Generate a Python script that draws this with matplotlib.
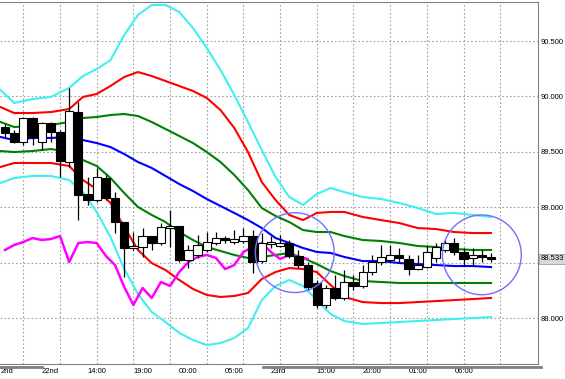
import numpy as np
import matplotlib.pyplot as plt
from matplotlib.patches import Ellipse
from matplotlib.lines import Line2D

plt.rcParams['font.family'] = ['Liberation Sans', 'DejaVu Sans']

# 1) candles (hourly OHLC)
opens = [89.724, 89.670, 89.588, 89.805, 89.588, 89.760, 89.679, 89.408, 89.859, 89.119,
         89.065, 89.264, 89.083, 88.866, 88.632, 88.641, 88.740, 88.677, 88.812, 88.830,
         88.523, 88.569, 88.614, 88.677, 88.722, 88.686, 88.695, 88.740, 88.514, 88.668,
         88.650, 88.677, 88.560, 88.478, 88.316, 88.117, 88.271, 88.181, 88.325, 88.289,
         88.415, 88.505, 88.523, 88.569, 88.533, 88.442, 88.460, 88.542, 88.614, 88.677,
         88.596, 88.542, 88.569, 88.551]
highs = [89.751, 89.697, 89.814, 89.814, 89.769, 89.769, 89.697, 90.076, 89.949, 89.273,
         89.354, 89.291, 89.137, 88.866, 88.776, 88.812, 88.740, 88.857, 88.975, 88.830,
         88.659, 88.749, 88.776, 88.776, 88.740, 88.794, 88.812, 88.794, 88.767, 88.740,
         88.749, 88.704, 88.614, 88.505, 88.343, 88.298, 88.388, 88.433, 88.388, 88.478,
         88.569, 88.659, 88.659, 88.632, 88.569, 88.569, 88.659, 88.677, 88.704, 88.722,
         88.632, 88.632, 88.614, 88.587]
lows = [89.625, 89.579, 89.561, 89.561, 89.516, 89.588, 89.273, 89.363, 88.884, 89.020,
        89.047, 89.065, 88.767, 88.370, 88.614, 88.551, 88.614, 88.659, 88.641, 88.505,
        88.451, 88.542, 88.596, 88.659, 88.677, 88.668, 88.677, 88.406, 88.496, 88.632,
        88.641, 88.542, 88.451, 88.253, 88.090, 88.090, 88.162, 88.162, 88.253, 88.271,
        88.388, 88.478, 88.505, 88.505, 88.388, 88.433, 88.451, 88.505, 88.596, 88.569,
        88.469, 88.469, 88.505, 88.505]
closes = [89.670, 89.588, 89.805, 89.634, 89.760, 89.679, 89.417, 89.868, 89.110, 89.065,
          89.273, 89.083, 88.866, 88.632, 88.650, 88.740, 88.677, 88.821, 88.830, 88.523,
          88.614, 88.659, 88.686, 88.722, 88.704, 88.713, 88.740, 88.505, 88.677, 88.686,
          88.677, 88.560, 88.478, 88.280, 88.117, 88.271, 88.181, 88.325, 88.289, 88.415,
          88.505, 88.551, 88.569, 88.542, 88.442, 88.478, 88.596, 88.641, 88.677, 88.596,
          88.533, 88.569, 88.551, 88.533]

# 2) bollinger bands, read at these candle positions
band_x = [-0.5, 1, 3, 5, 7, 8.5, 10, 11.5, 13, 14.5, 16, 17.5, 19, 20.5, 22, 23.5, 25,
          26.5, 28, 29.5, 31, 32.5, 34, 35.5, 37, 39, 41, 43, 45, 47, 49, 51, 53]
upper3 = [90.058, 89.940, 89.976, 89.995, 90.076, 90.184, 90.247, 90.328, 90.554, 90.735,
          90.825, 90.825, 90.762, 90.617, 90.437, 90.238, 90.013, 89.769, 89.516, 89.273,
          89.092, 89.020, 89.119, 89.173, 89.137, 89.092, 89.074, 89.038, 88.993, 88.939,
          88.948, 88.930, 88.912]
upper2 = [89.904, 89.850, 89.850, 89.859, 89.886, 89.995, 90.022, 90.094, 90.175, 90.220,
          90.184, 90.139, 90.094, 90.049, 89.986, 89.877, 89.715, 89.498, 89.227, 89.065,
          88.930, 88.884, 88.948, 88.957, 88.957, 88.912, 88.884, 88.857, 88.812, 88.803,
          88.776, 88.767, 88.767]
upper1 = [89.769, 89.724, 89.733, 89.742, 89.769, 89.805, 89.814, 89.832, 89.841, 89.823,
          89.769, 89.706, 89.643, 89.579, 89.498, 89.408, 89.291, 89.155, 88.993, 88.921,
          88.866, 88.794, 88.776, 88.776, 88.740, 88.704, 88.695, 88.677, 88.650, 88.641,
          88.623, 88.614, 88.614]
middle = [89.634, 89.606, 89.625, 89.625, 89.634, 89.606, 89.579, 89.543, 89.480, 89.408,
          89.354, 89.282, 89.209, 89.146, 89.074, 89.011, 88.948, 88.884, 88.812, 88.722,
          88.677, 88.632, 88.596, 88.587, 88.551, 88.514, 88.514, 88.496, 88.487, 88.478,
          88.469, 88.469, 88.460]
lower1 = [89.507, 89.498, 89.507, 89.525, 89.498, 89.426, 89.372, 89.264, 89.128, 89.002,
          88.930, 88.866, 88.776, 88.704, 88.641, 88.605, 88.569, 88.542, 88.551, 88.569,
          88.587, 88.542, 88.487, 88.424, 88.379, 88.334, 88.325, 88.316, 88.316, 88.316,
          88.316, 88.316, 88.316]
lower2 = [89.363, 89.399, 89.399, 89.399, 89.372, 89.245, 89.164, 89.038, 88.821, 88.614,
          88.496, 88.433, 88.343, 88.262, 88.208, 88.190, 88.199, 88.226, 88.352, 88.415,
          88.451, 88.442, 88.415, 88.298, 88.190, 88.144, 88.135, 88.135, 88.144, 88.153,
          88.162, 88.171, 88.181]
lower3 = [89.218, 89.264, 89.282, 89.282, 89.245, 89.137, 88.957, 88.731, 88.442, 88.217,
          88.054, 87.964, 87.865, 87.801, 87.756, 87.774, 87.819, 87.910, 88.162, 88.289,
          88.343, 88.289, 88.162, 88.036, 87.973, 87.946, 87.955, 87.964, 87.973, 87.982,
          87.991, 88.000, 88.009]

CHIKOU_SHIFT = 20  # lagging span: close drawn 20 bars back

# 3) axis labels
price_ticks = [88.0, 88.5, 89.0, 89.5, 90.0, 90.5]
time_pos = [-0.5, 4, 9, 14, 19, 24, 29, 34, 39, 44, 49]
time_labels = ['2nd', '22nd', '14:00', '19:00', '00:00', '05:00',
               '23rd', '15:00', '20:00', '01:00', '06:00']
last_price = 88.533

fig = plt.figure(figsize=(5.65, 3.79), dpi=100)
ax = fig.add_axes([0, 15 / 379, 538 / 565, 362 / 379])
ax.set_xlim(-0.545, 58.12)
ax.set_ylim(87.585, 90.852)

# grid
for gy in price_ticks:
    ax.axhline(gy, color='#a0a0a0', lw=0.8, ls=(0, (1.5, 2)), zorder=0)
for gx in np.arange(2, 58, 4):
    ax.axvline(gx, color='#a0a0a0', lw=0.8, ls=(0, (1.5, 2)), zorder=0)

# bands
ax.plot(band_x, upper3, color='#40f0f0', lw=1.5, zorder=2)
ax.plot(band_x, lower3, color='#40f0f0', lw=1.5, zorder=2)
ax.plot(band_x, upper2, color='#ff0000', lw=1.5, zorder=2)
ax.plot(band_x, lower2, color='#ff0000', lw=1.5, zorder=2)
ax.plot(band_x, upper1, color='#008000', lw=1.5, zorder=2)
ax.plot(band_x, lower1, color='#008000', lw=1.5, zorder=2)
ax.plot(band_x, middle, color='#0000ff', lw=1.5, zorder=2)

# lagging span
chikou = closes[CHIKOU_SHIFT:]
ax.plot(np.arange(len(chikou)), chikou, color='#ff00ff', lw=1.8, zorder=2)

# candles
idx = np.arange(len(closes))
o = np.array(opens)
c = np.array(closes)
ax.vlines(idx, lows, highs, color='black', lw=0.9, zorder=3)
up = c >= o
ax.bar(idx[up], (c - o)[up], bottom=o[up], width=0.9, facecolor='white',
       edgecolor='black', lw=0.8, zorder=4)
ax.bar(idx[~up], (o - c)[~up], bottom=c[~up], width=0.9, facecolor='black',
       edgecolor='black', lw=0.8, zorder=4)

# highlight circles
for cx, cy in [(31.6, 88.59), (52.0, 88.57)]:
    ax.add_patch(Ellipse((cx, cy), 8.6, 0.72, fill=False, edgecolor='#6f6fff',
                         lw=1.0, zorder=5))

# axes cosmetics
for side in ['left', 'bottom']:
    ax.spines[side].set_visible(False)
for side in ['top', 'right']:
    ax.spines[side].set_color('#808080')
    ax.spines[side].set_linewidth(0.8)
ax.spines['bottom'].set_visible(True)
ax.spines['bottom'].set_color('#808080')

ax.yaxis.tick_right()
ax.set_yticks(price_ticks)
ax.set_yticklabels(['%.3f' % v if v != 88.5 else '' for v in price_ticks],
                   fontsize=5.5)
ax.tick_params(axis='y', length=0, pad=2)
ax.set_xticks(time_pos)
ax.set_xticklabels(time_labels, fontsize=5.5, ha='left')
ax.tick_params(axis='x', length=0, pad=3)

ax.text(1.004, last_price, '%.3f' % last_price, transform=ax.get_yaxis_transform(),
        fontsize=5.5, va='center', ha='left',
        bbox=dict(boxstyle='square,pad=0.15', facecolor='#d8d8d8', edgecolor='#909090', lw=0.5))

# day bars under the time axis
fig.add_artist(Line2D([0, 42 / 565], [12 / 379, 12 / 379], color='#808080', lw=2))
fig.add_artist(Line2D([263 / 565, 541 / 565], [12 / 379, 12 / 379], color='#808080', lw=2))

fig.savefig('out.png', dpi=100)
